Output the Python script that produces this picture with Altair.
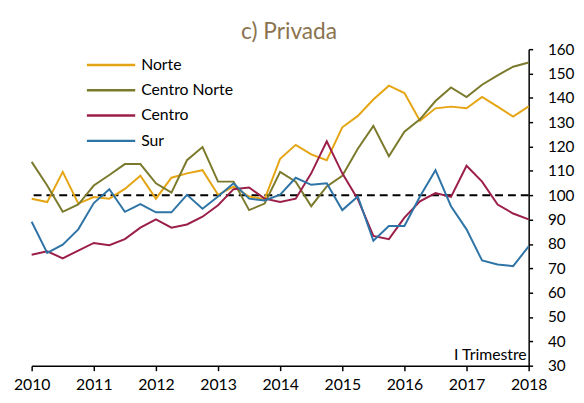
import altair as alt
import pandas as pd

years = [2010 + q * 0.25 for q in range(33)]

norte = [98.6, 97.2, 109.6, 96.6, 99.3, 98.6, 102.6, 108, 98.6, 107.2, 109, 110.3,
         100.2, 103.5, 99.5, 98.4, 115, 120.7, 116.8, 114.4, 127.9, 132.6, 139.3, 145,
         142, 130.6, 135.7, 136.4, 135.7, 140.4, 136.4, 132.3, 136.5]
centro_norte = [113.7, 104, 93.2, 96.2, 104, 108.3, 112.8, 112.8, 104.9, 101.1, 114.4, 119.8,
                105.6, 105.6, 93.9, 96.6, 109.6, 105.6, 95.5, 103.6, 108, 119.1, 128.5, 116,
                126.1, 131.2, 138.7, 144.3, 140.3, 145.4, 149.2, 152.8, 154.5]
centro = [75.6, 77, 74.1, 77.3, 80.4, 79.5, 82, 86.7, 90.1, 86.7, 88, 91.2,
          95.9, 102.5, 103.2, 98.6, 97.2, 98.6, 109, 122.2, 109, 98.4, 83.3, 82,
          90.8, 97.5, 100.9, 99.3, 112.1, 105.6, 96.2, 92.5, 90.1]
sur = [89.1, 76.3, 79.7, 86, 96.8, 102.5, 93.2, 96.4, 93, 93, 100.2, 94.5,
       99.5, 104.9, 98.6, 97.9, 100.2, 107.2, 104.3, 104.9, 93.9, 99.5, 81.3, 87.4,
       87.4, 99.5, 110.3, 95.5, 86, 73.2, 71.6, 70.9, 79]

series_names = ["Norte", "Centro Norte", "Centro", "Sur"]
series_colors = ["#E5A513", "#7B7A2C", "#9B1F48", "#2E74A6"]
year_ticks = list(range(2010, 2019))
y_ticks = list(range(30, 161, 10))
reference_level = [100]
title_text = ["c) Privada"]
note_text = ["I Trimestre"]

rows = []
for name, vals in zip(series_names, [norte, centro_norte, centro, sur]):
    for x, v in zip(years, vals):
        rows.append({"t": x, "v": v, "serie": name})
df = pd.DataFrame(rows)
legend_df = pd.DataFrame({"serie": series_names})

FONT = "Lato"
color_scale = alt.Scale(domain=series_names, range=series_colors)

x_axis = alt.Axis(values=year_ticks, format="d", title=None, grid=False,
                  domainColor="black", domainWidth=1.5, tickColor="black",
                  tickWidth=1.5, tickSize=5, labelPadding=6,
                  labelFontSize=16, labelFont=FONT, labelColor="black",
                  labelFlush=False, labelOverlap=False)
y_axis = alt.Axis(orient="right", values=y_ticks, title=None, grid=False,
                  domainColor="black", domainWidth=1.5, tickColor="black",
                  tickWidth=1.5, tickSize=4, labelPadding=15,
                  labelFontSize=15.5, labelFont=FONT, labelColor="black",
                  labelAlign="left", labelOverlap=False)
x_scale = alt.Scale(domain=[2010, 2018], nice=False, zero=False)
y_scale = alt.Scale(domain=[30, 160], nice=False, zero=False)

lines = alt.Chart(df).mark_line(strokeWidth=2).encode(
    x=alt.X("t:Q", scale=x_scale, axis=x_axis),
    y=alt.Y("v:Q", scale=y_scale, axis=y_axis),
    color=alt.Color("serie:N", scale=color_scale, legend=None),
    order=alt.Order("t:Q"),
)

ref = alt.Chart(pd.DataFrame({"v": reference_level})).mark_rule(
    color="black", strokeWidth=2, strokeDash=[8, 5]
).encode(y=alt.Y("v:Q", scale=y_scale, axis=y_axis))

leg_y = alt.Y("serie:O", scale=alt.Scale(type="point", domain=series_names,
                                          range=[16, 93], padding=0), axis=None)

leg_lines = alt.Chart(legend_df).mark_rule(strokeWidth=2.5).encode(
    x=alt.value(56), x2=alt.value(105), y=leg_y,
    color=alt.Color("serie:N", scale=color_scale, legend=None),
)
leg_text = alt.Chart(legend_df).mark_text(
    align="left", baseline="middle", font=FONT, fontSize=16, color="black"
).encode(x=alt.value(111), y=leg_y, text="serie:N")

legend = alt.layer(leg_lines, leg_text)

note = alt.Chart(pd.DataFrame({"txt": note_text})).mark_text(
    align="right", baseline="alphabetic", font=FONT, fontSize=16, color="black"
).encode(text="txt:N", x=alt.value(502), y=alt.value(315))

title = alt.Chart(pd.DataFrame({"txt": title_text})).mark_text(
    align="center", baseline="alphabetic", font=FONT, fontSize=23, color="#8B7350"
).encode(text="txt:N", x=alt.value(261), y=alt.value(-10))

chart = alt.layer(alt.layer(ref, lines, note), legend, title).resolve_scale(
    y="independent"
).properties(
    width=504, height=321,
    padding={"left": 24, "top": 39, "right": 48, "bottom": 30},
    autosize=alt.AutoSizeParams(type="none"),
).configure_view(stroke=None)

chart.save("out.html", embed_options={"renderer": "svg", "actions": False})
